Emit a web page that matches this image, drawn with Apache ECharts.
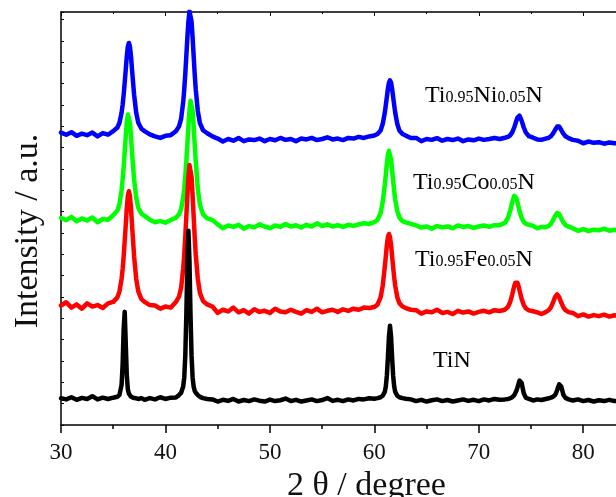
<!DOCTYPE html>
<html>
<head>
<meta charset="utf-8">
<script src="https://cdn.jsdelivr.net/npm/echarts@6/dist/echarts.min.js"></script>
<style>
html,body{margin:0;padding:0;background:#fff;}
#chart{width:616px;height:497px;}
</style>
</head>
<body>
<div id="chart"></div>
<script>
// 2θ sampling positions (degrees)
var twoTheta = [
30.0,30.5,31.0,31.5,32.0,32.5,33.0,33.5,34.0,34.5,35.0,
35.4,35.6,35.8,35.9,36.0,36.1,36.2,36.3,36.4,36.5,36.6,36.7,36.8,36.9,37.0,37.2,37.4,37.7,
38.0,38.5,39.0,39.5,40.0,40.5,41.0,
41.3,41.5,41.7,41.8,41.9,42.0,42.1,42.2,42.3,42.4,42.5,42.6,42.7,42.8,42.9,43.1,43.3,43.6,
44.0,44.5,45.0,45.5,46.0,46.5,47.0,47.5,48.0,48.5,49.0,49.5,50.0,50.5,51.0,51.5,52.0,52.5,53.0,53.5,54.0,54.5,55.0,55.5,56.0,56.5,57.0,57.5,58.0,58.5,59.0,59.5,60.0,
60.3,60.6,60.8,61.0,61.1,61.2,61.3,61.4,61.5,61.6,61.7,61.8,61.9,62.0,62.2,62.4,62.7,
63.0,63.5,64.0,64.5,65.0,65.5,66.0,66.5,67.0,67.5,68.0,68.5,69.0,69.5,70.0,70.5,71.0,71.5,72.0,72.5,
72.8,73.0,73.2,73.4,73.5,73.6,73.7,73.8,73.9,74.0,74.1,74.3,74.5,
74.8,75.2,75.6,76.0,76.4,76.7,
76.9,77.1,77.3,77.4,77.5,77.6,77.7,77.8,77.9,78.1,78.3,
78.6,79.0,79.5,80.0,80.5,81.0,81.5,82.0,82.5,83.0,83.5,84.0
];

// Intensities (a.u., stacked with offsets as in the figure)
var tiN = [
1.25,1.2,1.3,1.18,1.27,1.22,1.35,1.2,1.28,1.22,1.28,
1.32,1.41,1.88,2.82,4.5,5.3,3.8,2.32,1.67,1.47,1.38,1.33,1.3,1.28,1.27,1.25,1.22,1.26,
1.18,1.26,1.2,1.3,1.22,1.28,1.29,
1.4,1.51,1.8,2.23,3.25,5.15,7.68,9.1,7.68,5.15,3.25,2.23,1.8,1.61,1.51,1.4,1.32,1.26,
1.22,1.2,1.1,1.18,1.13,1.22,1.1,1.17,1.12,1.2,1.14,1.1,1.19,1.12,1.16,1.24,1.12,1.18,1.1,1.15,1.2,1.12,1.17,1.26,1.13,1.18,1.12,1.2,1.15,1.22,1.2,1.25,1.23,
1.26,1.3,1.37,1.55,1.81,2.32,3.17,4.15,4.65,4.15,3.17,2.32,1.81,1.55,1.37,1.3,1.26,
1.23,1.2,1.12,1.18,1.1,1.16,1.2,1.12,1.17,1.1,1.15,1.2,1.13,1.18,1.12,1.2,1.15,1.22,1.18,1.2,
1.22,1.25,1.3,1.4,1.48,1.6,1.75,1.92,2.08,2.15,1.98,1.5,1.28,
1.22,1.15,1.2,1.17,1.22,1.25,
1.28,1.32,1.4,1.5,1.63,1.78,1.9,1.93,1.8,1.42,1.27,
1.2,1.15,1.2,1.12,1.17,1.1,1.16,1.12,1.18,1.12,1.15,1.12
];
var tiFeN = [
5.6,5.75,5.5,5.65,5.45,5.7,5.55,5.62,5.48,5.7,5.77,
5.98,6.26,6.85,7.31,7.9,8.63,9.38,10.17,10.73,10.95,10.73,10.17,9.38,8.63,7.9,6.85,6.26,5.9,
5.77,5.62,5.6,5.45,5.55,5.5,5.76,
6.02,6.43,7.32,8.0,8.83,9.78,10.78,11.63,12.18,12.18,11.63,10.78,9.78,8.83,8.0,6.84,6.19,5.81,
5.65,5.55,5.25,5.4,5.32,5.5,5.28,5.38,5.22,5.42,5.3,5.35,5.25,5.45,5.32,5.28,5.4,5.3,5.22,5.38,5.3,5.45,5.28,5.35,5.4,5.3,5.42,5.35,5.45,5.4,5.5,5.48,5.53,
5.64,5.98,6.52,7.4,7.91,8.43,8.81,8.95,8.81,8.43,7.91,7.4,6.92,6.52,5.98,5.71,5.55,
5.48,5.4,5.38,5.22,5.32,5.28,5.4,5.25,5.3,5.2,5.35,5.27,5.32,5.22,5.3,5.35,5.28,5.38,5.34,5.4,
5.54,5.75,6.11,6.52,6.67,6.73,6.67,6.52,6.31,6.11,5.91,5.63,5.47,
5.37,5.33,5.28,5.2,5.29,5.38,
5.51,5.73,5.99,6.08,6.12,6.08,5.99,5.86,5.73,5.51,5.38,
5.29,5.25,5.1,5.18,5.08,5.15,5.1,5.17,5.08,5.14,5.1,5.12
];
var tiCoN = [
9.7,9.6,9.75,9.55,9.68,9.58,9.72,9.5,9.65,9.62,9.83,
10.05,10.35,11.0,11.5,12.1,12.8,13.53,14.15,14.55,14.55,14.15,13.53,12.8,12.1,11.5,10.65,10.18,9.9,
9.8,9.62,9.5,9.55,9.48,9.6,9.71,
9.87,10.12,10.67,11.07,11.65,12.35,13.16,14.0,14.73,15.19,15.19,14.73,14.0,13.16,12.35,11.07,10.32,9.87,
9.68,9.6,9.4,9.22,9.35,9.28,9.38,9.2,9.32,9.26,9.4,9.3,9.22,9.35,9.28,9.42,9.3,9.36,9.25,9.38,9.3,9.45,9.32,9.4,9.3,9.36,9.28,9.38,9.33,9.4,9.45,9.42,9.51,
9.61,9.93,10.44,11.24,11.73,12.25,12.65,12.85,12.76,12.43,11.94,11.45,10.96,10.56,10.02,9.72,9.55,
9.49,9.42,9.35,9.25,9.3,9.2,9.32,9.26,9.3,9.22,9.35,9.28,9.32,9.24,9.3,9.35,9.28,9.36,9.36,9.47,
9.71,10.03,10.44,10.74,10.74,10.62,10.44,10.23,10.03,9.85,9.71,9.52,9.43,
9.38,9.33,9.22,9.28,9.27,9.33,
9.42,9.58,9.79,9.88,9.93,9.93,9.88,9.79,9.68,9.49,9.37,
9.29,9.22,9.1,9.18,9.08,9.15,9.12,9.2,9.1,9.15,9.08,9.12
];
var tiNiN = [
13.7,13.6,13.72,13.55,13.65,13.58,13.7,13.52,13.68,13.6,13.77,
13.94,14.16,14.63,15.0,15.47,16.05,16.65,17.28,17.73,17.9,17.73,17.28,16.65,16.05,15.47,14.63,14.16,13.88,
13.77,13.62,13.52,13.45,13.55,13.58,13.76,
13.99,14.35,15.13,15.73,16.45,17.29,18.16,18.91,19.39,19.39,18.91,18.16,17.29,16.45,15.73,14.71,14.14,13.81,
13.67,13.52,13.42,13.28,13.4,13.32,13.45,13.3,13.38,13.35,13.42,13.3,13.4,13.34,13.45,13.36,13.4,13.3,13.42,13.38,13.45,13.35,13.4,13.48,13.38,13.42,13.35,13.45,13.42,13.5,13.45,13.52,13.56,
13.63,13.8,14.1,14.63,14.99,15.37,15.76,16.04,16.15,16.04,15.76,15.37,14.99,14.63,14.1,13.8,13.63,
13.56,13.45,13.45,13.3,13.4,13.36,13.44,13.32,13.4,13.35,13.42,13.3,13.38,13.34,13.42,13.36,13.4,13.45,13.4,13.46,
13.5,13.57,13.71,13.95,14.1,14.26,14.4,14.49,14.49,14.4,14.26,13.95,13.71,
13.53,13.46,13.38,13.36,13.42,13.46,
13.53,13.65,13.82,13.91,13.98,14.0,13.98,13.91,13.82,13.65,13.53,
13.44,13.36,13.32,13.2,13.28,13.22,13.25,13.18,13.24,13.2,13.22,13.18
];

// Sample label text: [main, sub, main, sub, main]
var labelNi = ['Ti','0.95','Ni','0.05','N'];
var labelCo = ['Ti','0.95','Co','0.05','N'];
var labelFe = ['Ti','0.95','Fe','0.05','N'];
var labelTiN = ['TiN'];

var xTicks = [30, 40, 50, 60, 70, 80];

var SERIF = "'Liberation Serif','Times New Roman',serif";

function pairs(ys){
  var n = Math.min(ys.length, twoTheta.length), out = [];
  for (var i = 0; i < n; i++) out.push([twoTheta[i], ys[i]]);
  return out;
}
function richText(parts){
  var s = '';
  for (var i = 0; i < parts.length; i++) s += '{' + (i % 2 === 0 ? 'a' : 'b') + '|' + parts[i] + '}';
  return s;
}
var rich = {
  a:{fontSize:24, fontFamily:SERIF, color:'#000', verticalAlign:'bottom', lineHeight:26},
  b:{fontSize:16, fontFamily:SERIF, color:'#000', verticalAlign:'bottom', lineHeight:26, padding:[0,0,2,0]}
};
function lbl(parts, x, y){
  return {type:'text', x:x, y:y, z:100, style:{text:richText(parts), rich:rich, align:'left', verticalAlign:'top'}};
}

var chart = echarts.init(document.getElementById('chart'));
function line(name, ys, color){
  return {name:name, type:'line', data:pairs(ys), showSymbol:false, symbol:'none',
    lineStyle:{color:color, width:4.5, join:'round', cap:'round'}, itemStyle:{color:color}, animation:false};
}
chart.setOption({
  animation:false,
  backgroundColor:'#fff',
  grid:{left:61, top:12, right:-56, bottom:72, show:false, containLabel:false, outerBoundsMode:'none'},
  xAxis:[{
    type:'value', position:'bottom', min:30, max:88.5, interval:10,
    axisLine:{lineStyle:{color:'#000', width:1.5}},
    axisTick:{inside:false, length:8, lineStyle:{color:'#000', width:1.5}},
    minorTick:{show:true, splitNumber:2, length:4, lineStyle:{color:'#000', width:1.5}},
    axisLabel:{margin:16, fontSize:23, fontFamily:SERIF, color:'#111',
      formatter:function(v){ return xTicks.indexOf(v) >= 0 ? String(v) : ''; }},
    splitLine:{show:false},
    name:'2 θ / degree', nameLocation:'middle', nameGap:42,
    nameTextStyle:{fontSize:34, fontFamily:SERIF, color:'#111'}
  },{
    type:'value', position:'top', min:30, max:88.5, interval:10,
    axisLine:{lineStyle:{color:'#000', width:1.5}},
    axisTick:{inside:true, length:4, lineStyle:{color:'#000', width:1}},
    minorTick:{show:true, splitNumber:2, length:2, lineStyle:{color:'#000', width:1}},
    axisLabel:{show:false}, splitLine:{show:false}
  }],
  yAxis:{
    type:'value', min:0, max:19.35, interval:1,
    axisLine:{show:true, lineStyle:{color:'#000', width:1.5}},
    axisTick:{show:true, inside:true, length:3, lineStyle:{color:'#000', width:1}},
    axisLabel:{show:false}, splitLine:{show:false}
  },
  graphic:[
    {type:'text', x:28, y:231, rotation:Math.PI/2, z:100,
      style:{text:'Intensity / a.u.', fontSize:34, fontFamily:SERIF, fill:'#111', align:'center', verticalAlign:'middle'}},
    lbl(labelNi, 425, 82),
    lbl(labelCo, 413, 169),
    lbl(labelFe, 415, 246),
    lbl(labelTiN, 433, 347)
  ],
  series:[
    line('Ti0.95Ni0.05N', tiNiN, '#0000ff'),
    line('Ti0.95Co0.05N', tiCoN, '#00ff00'),
    line('Ti0.95Fe0.05N', tiFeN, '#ff0000'),
    line('TiN', tiN, '#000000')
  ]
});
</script>
</body>
</html>
